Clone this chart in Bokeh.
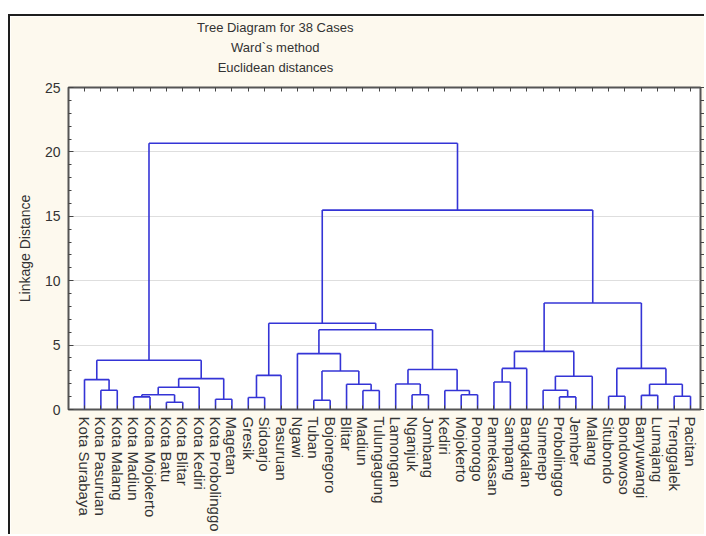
from bokeh.plotting import figure
from bokeh.models import (ColumnDataSource, LinearAxis, FixedTicker, Range1d,
                          Title, CustomJSTickFormatter)
from bokeh.embed import file_html
from bokeh.resources import INLINE

# ---- data -------------------------------------------------------------
leaves = ["Kota Surabaya", "Kota Pasuruan", "Kota Malang", "Kota Madiun",
          "Kota Mojokerto", "Kota Batu", "Kota Blitar", "Kota Kediri",
          "Kota Probolinggo", "Magetan", "Gresik", "Sidoarjo", "Pasuruan",
          "Ngawi", "Tuban", "Bojonegoro", "Blitar", "Madiun", "Tulungagung",
          "Lamongan", "Nganjuk", "Jombang", "Kediri", "Mojokerto", "Ponorogo",
          "Pamekasan", "Sampang", "Bangkalan", "Sumenep", "Probolinggo",
          "Jember", "Malang", "Situbondo", "Bondowoso", "Banyuwangi",
          "Lumajang", "Trenggalek", "Pacitan"]

# merges (scipy-linkage style): node ids < 38 are leaves, 38+k is merge k
merge_a = [1, 0, 3, 5, 40, 42, 8, 43, 39, 10, 47, 14, 17, 16, 49, 13, 20, 19,
           23, 22, 55, 53, 48, 25, 61, 29, 28, 64, 62, 32, 34, 36, 68, 67, 66,
           60, 46]
merge_b = [2, 38, 4, 6, 41, 7, 9, 44, 45, 11, 12, 15, 18, 50, 51, 52, 21, 54,
           24, 56, 57, 58, 59, 26, 27, 30, 63, 31, 65, 33, 35, 37, 69, 70, 71,
           72, 73]
merge_h = [1.49, 2.32, 0.98, 0.56, 1.14, 1.73, 0.80, 2.40, 3.82, 0.93, 2.65,
           0.72, 1.47, 1.96, 2.99, 4.34, 1.14, 1.98, 1.14, 1.48, 3.10, 6.19,
           6.70, 2.14, 3.19, 0.98, 1.49, 2.58, 4.51, 1.03, 1.10, 1.03, 1.96,
           3.19, 8.27, 15.48, 20.67]

title_lines = ["Tree Diagram for 38 Cases", "Ward`s method", "Euclidean distances"]
y_major_ticks = [0, 5, 10, 15, 20, 25]
y_label = "Linkage Distance"

# ---- dendrogram geometry from the merge table ----------------------------
n = len(leaves)
node_x = [float(i) for i in range(n)]
node_h = [0.0] * n
x0, y0, x1, y1 = [], [], [], []
for a, b, h in zip(merge_a, merge_b, merge_h):
    xa, ha, xb, hb = node_x[a], node_h[a], node_x[b], node_h[b]
    x0 += [xa, xb, xa]
    y0 += [ha, hb, h]
    x1 += [xa, xb, xb]
    y1 += [h, h, h]
    node_x.append((xa + xb) / 2.0)
    node_h.append(h)

src = ColumnDataSource(dict(x0=x0, y0=y0, x1=x1, y1=y1))

# ---- figure --------------------------------------------------------------
W, H = 696, 520
TOP, BOTTOM, LEFT, RIGHT = 71, 127, 58, 6
X0, X1 = -0.977, n - 0.39

p = figure(width=W, height=H, output_backend="svg", toolbar_location=None,
           x_range=Range1d(X0, X1), y_range=Range1d(0, 25),
           min_border_left=LEFT, min_border_right=RIGHT,
           min_border_top=TOP, min_border_bottom=BOTTOM,
           background_fill_color="white", border_fill_color="#FDF9EE",
           styles={"border-top": "2px solid #1e1e1e",
                   "border-left": "2px solid #1e1e1e",
                   "margin-left": "8px", "margin-top": "14px"})

p.outline_line_color = "#555555"
p.outline_line_width = 2

p.segment("x0", "y0", "x1", "y1", source=src, line_color="#3434d6",
          line_width=1.6)

# grid
p.xgrid.visible = False
p.ygrid.ticker = FixedTicker(ticks=y_major_ticks)
p.ygrid.grid_line_color = "#bdbdbd"
p.ygrid.grid_line_dash = "1 1"
p.ygrid.grid_line_width = 1

tick_col = "#444444"
text_col = "#333333"

# left axis
ya = p.yaxis[0]
ya.ticker = FixedTicker(ticks=y_major_ticks, minor_ticks=list(range(0, 26)))
ya.axis_line_color = None
ya.major_tick_in = 5
ya.major_tick_out = 0
ya.minor_tick_in = 3
ya.minor_tick_out = 0
ya.major_tick_line_color = tick_col
ya.minor_tick_line_color = tick_col
ya.major_label_text_font = "Liberation Sans"
ya.major_label_text_font_size = "14px"
ya.major_label_text_color = text_col
ya.major_label_standoff = 8
ya.axis_label = y_label
ya.axis_label_text_font = "Liberation Sans"
ya.axis_label_text_font_size = "14px"
ya.axis_label_text_font_style = "normal"
ya.axis_label_text_color = text_col
ya.axis_label_standoff = 9

# bottom axis with leaf names
xa_ = p.xaxis[0]
xa_.ticker = FixedTicker(ticks=list(range(n)))
xa_.major_label_overrides = {i: name for i, name in enumerate(leaves)}
xa_.major_label_orientation = "vertical"
xa_.axis_line_color = None
xa_.major_tick_in = 4
xa_.major_tick_out = 0
xa_.minor_tick_line_color = None
xa_.major_tick_line_color = tick_col
xa_.major_label_text_font = "Liberation Sans"
xa_.major_label_text_font_size = "15px"
xa_.major_label_text_color = text_col
xa_.major_label_standoff = 7

empty = CustomJSTickFormatter(code="return ''")

# top axis: inward ticks at each case, no labels
top = LinearAxis(ticker=FixedTicker(ticks=list(range(n))), formatter=empty,
                 axis_line_color=None, major_tick_in=4, major_tick_out=0,
                 major_tick_line_color=tick_col, minor_tick_line_color=None)
p.add_layout(top, "above")

# invisible spacer between the frame and the title block
spacer = LinearAxis(ticker=FixedTicker(ticks=[0]), formatter=empty,
                    axis_line_color=None, major_tick_in=0, major_tick_out=11,
                    major_tick_line_color=None, minor_tick_line_color=None)
p.add_layout(spacer, "above")

# right axis: outward ticks only, no labels
right = LinearAxis(ticker=FixedTicker(ticks=list(range(0, 26))),
                   formatter=empty, axis_line_color=None,
                   major_tick_in=0, major_tick_out=4,
                   major_tick_line_color=tick_col, minor_tick_line_color=None,
                   major_label_standoff=0)
p.add_layout(right, "right")

# title lines: stacked Titles, left-aligned with an offset so that the
# block is centred at the same spot as in the original chart
TITLE_SIZE = 13
TITLE_CENTER = 207          # px from the frame's left edge
arial_w = {' ': 278, 'T': 611, 'r': 333, 'e': 556, 'D': 722, 'i': 222,
           'a': 556, 'g': 556, 'm': 833, 'f': 278, 'o': 556, '3': 556,
           '8': 556, 'C': 722, 's': 500, 'W': 944, '`': 333, 'h': 556,
           't': 278, 'd': 556, 'E': 667, 'u': 556, 'c': 500, 'l': 222,
           'n': 556}


def text_width(s, size):
    return sum(arial_w.get(ch, 556) for ch in s) * size / 1000.0


for line in reversed(title_lines):
    off = TITLE_CENTER - text_width(line, TITLE_SIZE) / 2.0
    p.add_layout(Title(text=line, align="left", offset=off, standoff=3,
                       text_font="Liberation Sans",
                       text_font_size=f"{TITLE_SIZE}px",
                       text_font_style="normal", text_color=text_col),
                 "above")

open("out.html", "w").write(file_html(p, INLINE))
